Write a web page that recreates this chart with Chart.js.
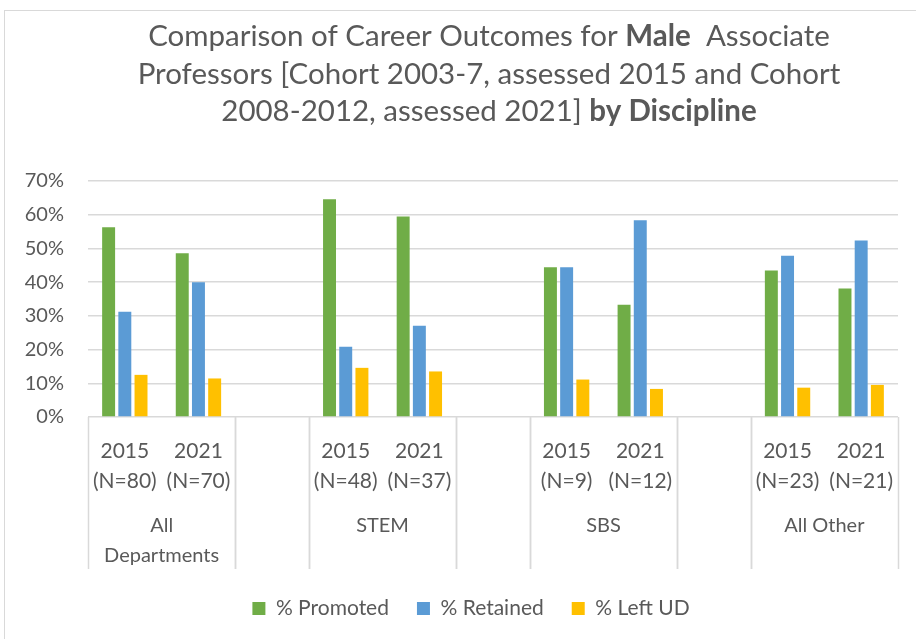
<!DOCTYPE html>
<html>
<head>
<meta charset="utf-8">
<script src="https://cdn.jsdelivr.net/npm/chart.js@4/dist/chart.umd.min.js"></script>
<style>
  html, body { margin: 0; padding: 0; background: #fff; overflow: hidden; }
  #wrap { position: relative; width: 916px; height: 639px; }
  #frame { position: absolute; left: 4px; top: 10px; width: 1000px; height: 800px;
           border-left: 1.5px solid #d9d9d9; border-top: 1.5px solid #d9d9d9; }
  canvas { position: absolute; left: 0; top: 0; }
</style>
</head>
<body>
<div id="wrap"><div id="frame"></div><canvas id="chart-outcomes" width="916" height="639"></canvas></div>
<script>
// categories (empty slots keep the gaps between disciplines)
const yearLabels = [
  ['2015', '(N=80)'], ['2021', '(N=70)'], '',
  ['2015', '(N=48)'], ['2021', '(N=37)'], '',
  ['2015', '(N=9)'], ['2021', '(N=12)'], '',
  ['2015', '(N=23)'], ['2021', '(N=21)'],
];
const groupLabels = [['All', 'Departments'], '', 'STEM', '', 'SBS', '', 'All Other'];
const groupSpans = [2, 1, 2, 1, 2, 1, 2];

// series values, in percent
const promoted = [56.25, 48.57, null, 64.58, 59.46, null, 44.44, 33.33, null, 43.48, 38.10];
const retained = [31.25, 40.00, null, 20.83, 27.03, null, 44.44, 58.33, null, 47.83, 52.38];
const leftUD = [12.50, 11.43, null, 14.58, 13.51, null, 11.11, 8.33, null, 8.70, 9.52];

const yTicks = [0, 10, 20, 30, 40, 50, 60, 70];

const titleLines = [
  [['Comparison of Career Outcomes for ', false], ['Male', true], ['  Associate', false]],
  [['Professors [Cohort 2003-7, assessed 2015 and Cohort', false]],
  [['2008-2012, assessed 2021] ', false], ['by Discipline', true]],
];

const FONT = 'Lato, "Open Sans", sans-serif';
const TEXT = '#595959';
const GRID = '#d9d9d9';

const richTitle = {
  id: 'richTitle',
  afterDraw(chart) {
    const { ctx } = chart;
    const cx = 489;
    const rows = [36, 74, 111];
    ctx.save();
    ctx.fillStyle = TEXT;
    ctx.textBaseline = 'middle';
    ctx.textAlign = 'left';
    titleLines.forEach((segments, row) => {
      const widths = segments.map(([text, bold]) => {
        ctx.font = `${bold ? 'bold ' : ''}29.5px ${FONT}`;
        return ctx.measureText(text).width;
      });
      let x = cx - widths.reduce((a, b) => a + b, 0) / 2;
      segments.forEach(([text, bold], i) => {
        ctx.font = `${bold ? 'bold ' : ''}29.5px ${FONT}`;
        ctx.fillText(text, x, rows[row]);
        x += widths[i];
      });
    });
    ctx.restore();
  },
};

// the legend sits a little right of the plot centre in the original
const legendShift = {
  id: 'legendShift',
  afterLayout(chart) {
    if (!chart.legend) return;
    chart.legend.left += 22;
    chart.legend.right += 22;
  },
};

const groupAxis = {
  id: 'groupAxis',
  afterDraw(chart) {
    const { ctx } = chart;
    const xs = chart.scales.x;
    const half = (xs.getPixelForValue(1) - xs.getPixelForValue(0)) / 2;
    const top = chart.chartArea.bottom;
    const bottom = top + 152;
    ctx.save();
    ctx.strokeStyle = GRID;
    ctx.lineWidth = 1.5;
    ctx.fillStyle = TEXT;
    ctx.font = `20px ${FONT}`;
    ctx.textAlign = 'center';
    ctx.textBaseline = 'middle';
    let start = 0;
    groupSpans.forEach((span, g) => {
      const left = xs.getPixelForValue(start) - half;
      const right = xs.getPixelForValue(start + span - 1) + half;
      [left, right].forEach((x) => {
        ctx.beginPath();
        ctx.moveTo(Math.round(x) + 0.5, top);
        ctx.lineTo(Math.round(x) + 0.5, bottom);
        ctx.stroke();
      });
      const lines = [].concat(groupLabels[g]);
      lines.forEach((line, i) => ctx.fillText(line, (left + right) / 2, top + 109 + i * 30));
      start += span;
    });
    ctx.restore();
  },
};

const ctx = document.getElementById('chart-outcomes').getContext('2d');
new Chart(ctx, {
  type: 'bar',
  data: {
    labels: yearLabels,
    datasets: [
      { label: '% Promoted', data: promoted, backgroundColor: '#70AD47' },
      { label: '% Retained', data: retained, backgroundColor: '#5B9BD5' },
      { label: '% Left UD', data: leftUD, backgroundColor: '#FFC000' },
    ],
  },
  options: {
    responsive: false,
    animation: false,
    layout: { padding: { top: 181, bottom: 10, left: 0, right: 18 } },
    datasets: { bar: { categoryPercentage: 0.66, barPercentage: 0.8 } },
    plugins: {
      title: { display: false },
      tooltip: { enabled: false },
      legend: {
        position: 'bottom',
        labels: {
          color: TEXT,
          font: { family: FONT, size: 21 },
          boxWidth: 13,
          boxHeight: 13,
          padding: 28,
        },
      },
    },
    scales: {
      x: {
        grid: { display: false, drawTicks: false },
        border: { display: false },
        ticks: { color: TEXT, font: { family: FONT, size: 21, lineHeight: 1.43 }, padding: 19, maxRotation: 0, autoSkip: false },
        afterFit: (scale) => { scale.height = 153; },
      },
      y: {
        min: 0,
        max: 70,
        afterBuildTicks: (scale) => { scale.ticks = yTicks.map((value) => ({ value })); },
        grid: { color: GRID, lineWidth: 1.5, drawTicks: false },
        border: { display: false },
        ticks: { color: TEXT, font: { family: FONT, size: 20 }, padding: 24, callback: (v) => `${v}%` },
        afterFit: (scale) => { scale.width = 88; },
      },
    },
  },
  plugins: [richTitle, legendShift, groupAxis],
});
</script>
</body>
</html>
